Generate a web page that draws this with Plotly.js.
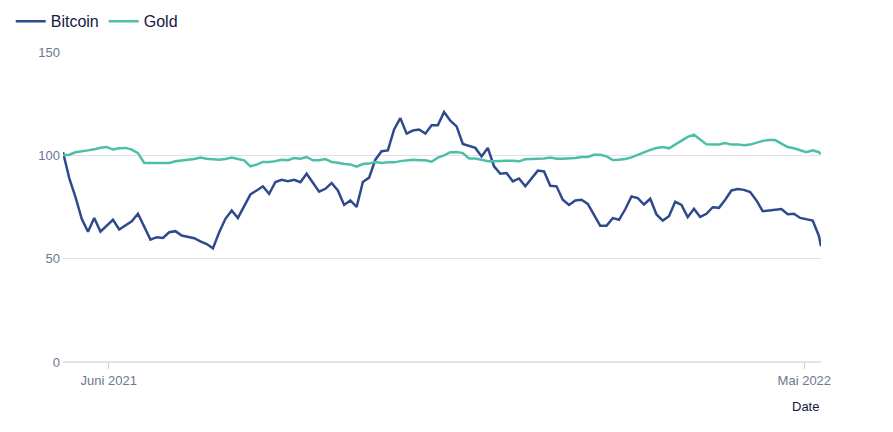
<!DOCTYPE html>
<html>
<head>
<meta charset="utf-8">
<script src="https://cdn.plot.ly/plotly-3.0.1.min.js"></script>
<style>
  html, body { margin: 0; padding: 0; background: #fff; }
  #chart { width: 893px; height: 432px; }
</style>
</head>
<body>
<div id="chart"></div>
<script>
// dates, every 3 days from 10 May 2021
var dates = [
  '2021-05-10','2021-05-13','2021-05-16','2021-05-19','2021-05-22','2021-05-25','2021-05-28','2021-05-31','2021-06-03','2021-06-06',
  '2021-06-09','2021-06-12','2021-06-15','2021-06-18','2021-06-21','2021-06-24','2021-06-27','2021-06-30','2021-07-03','2021-07-06',
  '2021-07-09','2021-07-12','2021-07-15','2021-07-18','2021-07-21','2021-07-24','2021-07-27','2021-07-30','2021-08-02','2021-08-05',
  '2021-08-08','2021-08-11','2021-08-14','2021-08-17','2021-08-20','2021-08-23','2021-08-26','2021-08-29','2021-09-01','2021-09-04',
  '2021-09-07','2021-09-10','2021-09-13','2021-09-16','2021-09-19','2021-09-22','2021-09-25','2021-09-28','2021-10-01','2021-10-04',
  '2021-10-07','2021-10-10','2021-10-13','2021-10-16','2021-10-19','2021-10-22','2021-10-25','2021-10-28','2021-10-31','2021-11-03',
  '2021-11-06','2021-11-09','2021-11-12','2021-11-15','2021-11-18','2021-11-21','2021-11-24','2021-11-27','2021-11-30','2021-12-03',
  '2021-12-06','2021-12-09','2021-12-12','2021-12-15','2021-12-18','2021-12-21','2021-12-24','2021-12-27','2021-12-30','2022-01-02',
  '2022-01-05','2022-01-08','2022-01-11','2022-01-14','2022-01-17','2022-01-20','2022-01-23','2022-01-26','2022-01-29','2022-02-01',
  '2022-02-04','2022-02-07','2022-02-10','2022-02-13','2022-02-16','2022-02-19','2022-02-22','2022-02-25','2022-02-28','2022-03-03',
  '2022-03-06','2022-03-09','2022-03-12','2022-03-15','2022-03-18','2022-03-21','2022-03-24','2022-03-27','2022-03-30','2022-04-02',
  '2022-04-05','2022-04-08','2022-04-11','2022-04-14','2022-04-17','2022-04-20','2022-04-23','2022-04-26','2022-04-29','2022-05-02',
  '2022-05-05','2022-05-08','2022-05-09'
];

// indexed to 100
var bitcoin = [
  101.5, 89, 79.8, 69.3, 63, 69.7, 63.1, 66, 68.8, 64.1,
  66, 68.1, 71.7, 65.2, 59.2, 60.4, 60, 62.8, 63.3, 61.2,
  60.4, 59.9, 58.4, 57.1, 55, 62.8, 69.3, 73.3, 69.7, 75.2,
  81.1, 83, 85, 81.4, 87.1, 88.2, 87.5, 88.2, 87, 91.1,
  87, 82.4, 83.8, 86.6, 83, 76, 78.2, 75, 87.1, 89.2,
  97.9, 102, 102.4, 112.5, 118, 110.5, 112, 112.5, 110.5, 114.6,
  114.6, 121, 116.8, 114, 105.5, 104.7, 103.6, 99.5, 103.6, 94.7,
  91.1, 91.4, 87.4, 88.8, 85, 88.8, 92.6, 92.2, 85.3, 85,
  78.5, 76, 78.2, 78.5, 76.5, 71.2, 65.9, 65.9, 69.6, 68.8,
  73.9, 80.1, 79.3, 76.2, 79, 71.4, 68.4, 70.5, 77.5, 76,
  70.1, 74.1, 70.2, 71.7, 74.9, 74.6, 78.5, 83, 83.7, 83.3,
  82.2, 78.2, 73, 73.3, 73.6, 74, 71.5, 71.7, 69.7, 69.1,
  68.4, 61, 56
];

var gold = [
  100, 100.3, 101.5, 102.1, 102.4, 102.9, 103.7, 104, 102.8, 103.4,
  103.6, 102.8, 101.1, 96.3, 96.3, 96.6, 96.3, 96.3, 97.1, 97.6,
  97.9, 98.2, 98.9, 98.4, 98.2, 97.9, 98.2, 98.9, 98.2, 97.6,
  94.7, 95.5, 96.8, 96.8, 97.2, 97.9, 97.6, 98.7, 98.4, 99.2,
  97.6, 97.6, 98.2, 96.8, 96.4, 95.8, 95.6, 94.5, 95.8, 96,
  96.8, 96.3, 96.6, 96.6, 97.2, 97.6, 97.9, 97.6, 97.6, 96.9,
  98.9, 100, 101.5, 101.6, 101.1, 98.5, 98.5, 97.9, 97.1, 97.1,
  97.4, 97.4, 97.4, 97.1, 98.1, 98.2, 98.4, 98.5, 99, 98.4,
  98.4, 98.4, 98.7, 99.2, 99.2, 100.3, 100.3, 99.5, 97.7, 97.9,
  98.2, 99, 100.3, 101.5, 102.6, 103.6, 104, 103.4, 105.2, 107,
  108.9, 110, 107.6, 105.3, 105.2, 105.3, 106, 105.2, 105.3, 104.9,
  105.2, 106, 107, 107.4, 107.4, 105.7, 104, 103.4, 102.4, 101.5,
  102.4, 101.5, 100.6
];

var xTickVals = ['2021-06-01', '2022-05-01'];
var xTickText = ['Juni 2021', 'Mai 2022'];
var yTickVals = [0, 50, 100, 150];

var traces = [
  {
    x: dates, y: bitcoin, name: 'Bitcoin', type: 'scatter', mode: 'lines',
    line: { color: '#2f4a8c', width: 2.5 }
  },
  {
    x: dates, y: gold, name: 'Gold', type: 'scatter', mode: 'lines',
    line: { color: '#4dbfa7', width: 2.5 }
  }
];

var layout = {
  width: 893,
  height: 432,
  margin: { l: 63, r: 72, t: 52, b: 70 },
  paper_bgcolor: '#fff',
  plot_bgcolor: '#fff',
  font: { family: 'Liberation Sans, Arial, sans-serif', size: 13, color: '#6c7891' },
  showlegend: true,
  legend: {
    orientation: 'h',
    xref: 'container', yref: 'container',
    x: 0.012, y: 0.99, xanchor: 'left', yanchor: 'top',
    font: { size: 16, color: '#14183d' },
    itemwidth: 30,
    tracegroupgap: 0
  },
  xaxis: {
    type: 'date',
    range: ['2021-05-10', '2022-05-09'],
    tickvals: xTickVals,
    ticktext: xTickText,
    showgrid: false,
    zeroline: false,
    showline: false,
    ticks: 'outside',
    ticklen: 6,
    tickwidth: 1,
    tickcolor: '#c8ccd6',
    tickfont: { size: 13, color: '#6c7891' }
  },
  yaxis: {
    range: [0, 150],
    tickvals: yTickVals,
    showgrid: true,
    gridcolor: '#e1e2e8',
    gridwidth: 1.5,
    zeroline: true,
    zerolinecolor: '#e1e2e8',
    zerolinewidth: 1.5,
    showline: false,
    ticks: '',
    ticklabelstandoff: 2,
    tickfont: { size: 13, color: '#6c7891' }
  },
  annotations: [
    {
      text: 'Date', xref: 'paper', yref: 'paper',
      x: 1, y: -0.142, xanchor: 'right', yanchor: 'middle',
      showarrow: false, font: { size: 13, color: '#14183d' }
    }
  ]
};

Plotly.newPlot('chart', traces, layout, { displayModeBar: false, staticPlot: true });
</script>
</body>
</html>
